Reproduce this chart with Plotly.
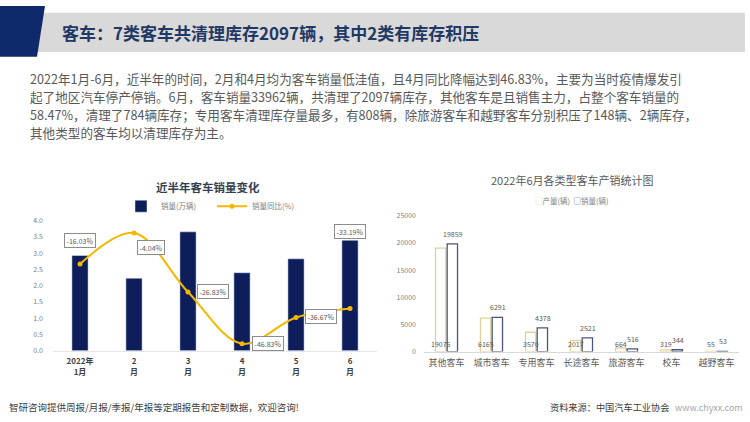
import plotly.graph_objects as go

# ---------------- data ----------------
months = ["2022年<br>1月", "2<br>月", "3<br>月", "4<br>月", "5<br>月", "6<br>月"]
sales_wan = [2.93, 2.23, 3.66, 2.40, 2.83, 3.40]          # 销量(万辆)
yoy_pct = [-16.03, -4.04, -26.83, -46.83, -36.67, -33.19]  # 销量同比(%)

bus_types = ["其他客车", "城市客车", "专用客车", "长途客车", "旅游客车", "校车", "越野客车"]
production = [19075, 6165, 3570, 2017, 664, 319, 55]      # 产量(辆)
sales = [19859, 6291, 4378, 2521, 516, 344, 53]           # 销量(辆)

header_title = "客车：7类客车共清理库存2097辆，其中2类有库存积压"
para_lines = [
    "2022年1月-6月，近半年的时间，2月和4月均为客车销量低洼值，且4月同比降幅达到46.83%，主要为当时疫情爆发引",
    "起了地区汽车停产停销。6月，客车销量33962辆，共清理了2097辆库存，其他客车是且销售主力，占整个客车销量的",
    "58.47%，清理了784辆库存；专用客车清理库存量最多，有808辆，除旅游客车和越野客车分别积压了148辆、2辆库存，",
    "其他类型的客车均以清理库存为主。",
]
left_title = "近半年客车销量变化"
right_title = "2022年6月各类型客车产销统计图"
footer_left = "智研咨询提供周报/月报/季报/年报等定期报告和定制数据，欢迎咨询!"
footer_src = "资料来源：中国汽车工业协会"
footer_url = "www.chyxx.com"

# ---------------- helpers ----------------
W, H = 750, 422
def px(x):
    return x / W
def py(y):
    return 1 - y / H

FONT = "Noto Sans CJK SC, Noto Sans, sans-serif"
NAVY = "#0E1E5B"
GOLD = "#F5B700"
GRAY = "#595959"
PROD_C = "#E3CF9C"
SALE_C = "#4A5674"

fig = go.Figure()

# ---- left chart ----
fig.add_trace(go.Bar(
    x=months, y=sales_wan, name="销量(万辆)", width=0.3,
    marker=dict(color=NAVY), xaxis="x", yaxis="y", legend="legend",
))
fig.add_trace(go.Scatter(
    x=months, y=yoy_pct, name="销量同比(%)", mode="lines+markers",
    line=dict(color=GOLD, width=2, shape="spline", smoothing=1.0),
    marker=dict(color=GOLD, size=5), xaxis="x", yaxis="y2", legend="legend",
))

# ---- right chart ----
fig.add_trace(go.Bar(
    x=bus_types, y=production, name="产量(辆)", width=0.23, offset=-0.245,
    marker=dict(color="white", line=dict(color=PROD_C, width=1.3)),
    xaxis="x2", yaxis="y3", showlegend=False,
))
fig.add_trace(go.Bar(
    x=bus_types, y=sales, name="销量(辆)", width=0.23, offset=0.015,
    marker=dict(color="white", line=dict(color=SALE_C, width=1.3)),
    xaxis="x2", yaxis="y3", showlegend=False,
))

annotations = []

# yoy boxed labels
yoy_shift = [(0, 24), (17, -14), (25, 0), (26, 0), (25, 1), (0, 77)]
for m, v, (dx, dy) in zip(months, yoy_pct, yoy_shift):
    annotations.append(dict(
        x=m, y=v, xref="x", yref="y2", text=f"{v:.2f}%", showarrow=False,
        xshift=dx, yshift=dy, font=dict(size=7, color=GRAY, family=FONT),
        bgcolor="white", bordercolor="#8C8C8C", borderwidth=1, borderpad=1.5,
    ))

# production labels near base
for t, v in zip(bus_types, production):
    annotations.append(dict(
        x=t, y=0, xref="x2", yref="y3", text=str(v), showarrow=False,
        xshift=-6, yshift=8, font=dict(size=7, color=GRAY, family=FONT),
    ))
# sales labels above bars
for t, v in zip(bus_types, sales):
    annotations.append(dict(
        x=t, y=v, xref="x2", yref="y3", text=str(v), showarrow=False,
        xshift=6, yshift=10, font=dict(size=7, color=GRAY, family=FONT),
    ))

# right chart legend (compact, text-style squares like the original)
annotations.append(dict(
    x=px(572), y=py(199), xref="paper", yref="paper", showarrow=False,
    xanchor="center", yanchor="middle",
    text=(f"<span style='color:{PROD_C}'>□</span>产量(辆)&nbsp;&nbsp;"
          f"<span style='color:{SALE_C}'>□</span>销量(辆)"),
    font=dict(size=7.5, color="#7F7F7F", family=FONT),
))

# header title
annotations.append(dict(
    x=px(60), y=py(27), xref="paper", yref="paper", text=f"<b>{header_title}</b>",
    showarrow=False, xanchor="left", yanchor="middle",
    font=dict(size=17, color="#1F3864", family=FONT),
))
# paragraph
for i, line in enumerate(para_lines):
    annotations.append(dict(
        x=px(29), y=py(74 + 18.4 * i), xref="paper", yref="paper", text=line,
        showarrow=False, xanchor="left", yanchor="middle", borderpad=0,
        font=dict(size=12.6, color=GRAY, family=FONT),
    ))
# chart titles
annotations.append(dict(
    x=px(208), y=py(185), xref="paper", yref="paper", text=f"<b>{left_title}</b>",
    showarrow=False, xanchor="center", yanchor="middle",
    font=dict(size=11.5, color="#333F50", family=FONT),
))
annotations.append(dict(
    x=px(572), y=py(178), xref="paper", yref="paper", text=right_title,
    showarrow=False, xanchor="center", yanchor="middle",
    font=dict(size=11, color=GRAY, family=FONT),
))
# footer
annotations.append(dict(
    x=px(7), y=py(411), xref="paper", yref="paper", text=footer_left,
    showarrow=False, xanchor="left", yanchor="middle",
    font=dict(size=9.5, color="#404040", family=FONT),
))
annotations.append(dict(
    x=px(548), y=py(411), xref="paper", yref="paper", text=footer_src,
    showarrow=False, xanchor="left", yanchor="middle",
    font=dict(size=9.2, color="#404040", family=FONT),
))
annotations.append(dict(
    x=px(745), y=py(411), xref="paper", yref="paper", text=footer_url,
    showarrow=False, xanchor="right", yanchor="middle",
    font=dict(size=9, color="#A6A6A6", family=FONT),
))

shapes = [
    # gray header band
    dict(type="rect", xref="paper", yref="paper", x0=px(30), x1=px(745),
         y0=py(47), y1=py(7), fillcolor="#D9D9D9", line=dict(width=0), layer="below"),
    # navy parallelogram
    dict(type="path", xref="paper", yref="paper",
         path=f"M 0 {py(0)} L {px(45)} {py(0)} L {px(37)} {py(52)} L 0 {py(52)} Z",
         fillcolor="#0F2A6B", line=dict(width=0), layer="below"),
]

tick_small = dict(size=7, color="#7F7F7F", family=FONT)

fig.update_layout(
    width=W, height=H, margin=dict(l=0, r=0, t=0, b=0),
    paper_bgcolor="white", plot_bgcolor="rgba(0,0,0,0)",
    font=dict(family=FONT, color=GRAY),
    barmode="overlay",
    showlegend=True,
    xaxis=dict(domain=[px(53), px(377)], anchor="y", type="category",
               showgrid=False, zeroline=False, showline=True, linecolor="#E6E6E6",
               ticks="", tickfont=dict(size=8, color="#404040", family=FONT, weight="bold"),
               ticklabelstandoff=3),
    yaxis=dict(domain=[py(353), py(220)], anchor="x", range=[0, 4], dtick=0.5,
               tickformat=".1f", showgrid=False, zeroline=False, showline=False,
               ticks="", tickfont=tick_small, ticklabelstandoff=9),
    yaxis2=dict(overlaying="y", anchor="x", range=[-49.5, 0.7], visible=False),
    xaxis2=dict(domain=[px(424), px(739)], anchor="y3", type="category",
                showgrid=False, zeroline=False, showline=True, linecolor="#D9D9D9",
                ticks="", tickfont=dict(size=9, color=GRAY, family=FONT),
                ticklabelstandoff=3),
    yaxis3=dict(domain=[py(354), py(215)], anchor="x2", range=[0, 25000], dtick=5000,
                tickformat="d", showgrid=False, zeroline=False, showline=False,
                ticks="", tickfont=tick_small, ticklabelstandoff=7),
    legend=dict(orientation="h", x=px(212), xanchor="center", y=py(205), yanchor="middle",
                font=dict(size=7.5, color="#7F7F7F", family=FONT),
                bgcolor="rgba(0,0,0,0)", itemwidth=30, entrywidth=46, entrywidthmode="pixels"),
    annotations=annotations,
    shapes=shapes,
)

fig.write_html("out.html", config={"displayModeBar": False},
               post_script="document.body.style.margin='0';document.body.style.padding='0';")
